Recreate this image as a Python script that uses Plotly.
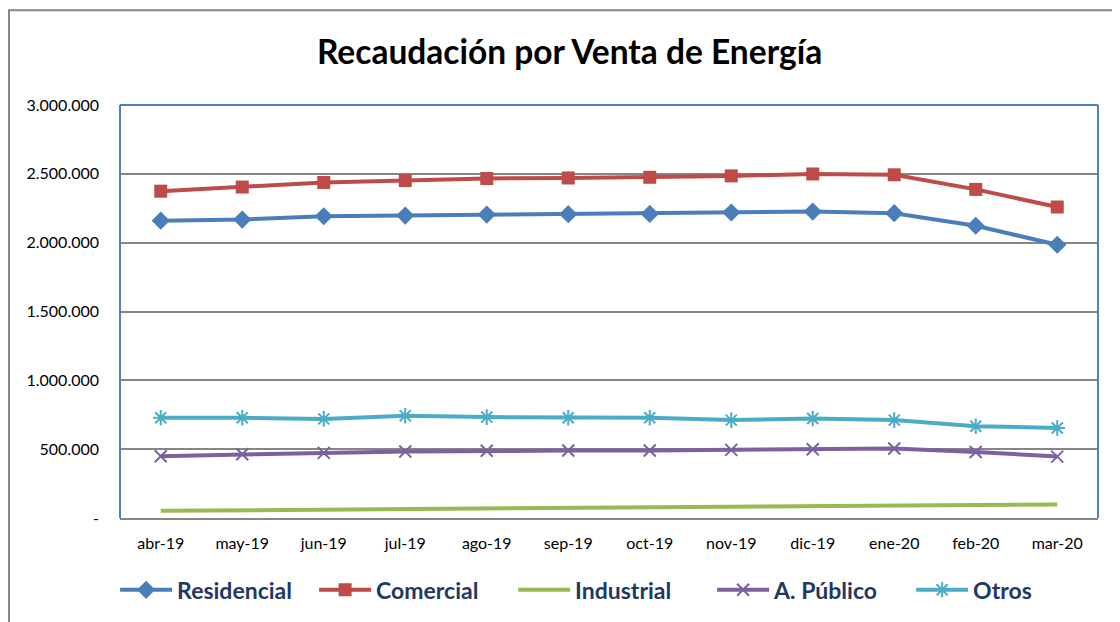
import plotly.graph_objects as go

months = ["abr-19", "may-19", "jun-19", "jul-19", "ago-19", "sep-19",
          "oct-19", "nov-19", "dic-19", "ene-20", "feb-20", "mar-20"]
residencial = [2160000, 2168000, 2192000, 2197000, 2204000, 2207000,
               2209000, 2219000, 2226000, 2214000, 2123000, 1985000]
comercial = [2374000, 2404000, 2437000, 2451000, 2466000, 2470000,
             2475000, 2485000, 2499000, 2493000, 2387000, 2259000]
industrial = [52000, 57000, 61000, 66000, 70000, 74000,
              78000, 83000, 87000, 91000, 95000, 98000]
publico = [449000, 463000, 473000, 483000, 488000, 490000,
           490000, 495000, 500000, 505000, 480000, 446000]
otros = [728000, 728000, 720000, 743000, 733000, 728000,
         728000, 711000, 723000, 711000, 667000, 654000]
y_ticks = [0, 500000, 1000000, 1500000, 2000000, 2500000, 3000000]

def fmt(v):
    return "-" if v == 0 else f"{v:,}".replace(",", ".")

FONT = "Lato"
series = [
    ("Residencial", residencial, "#4A7EBB", dict(symbol="diamond", size=14)),
    ("Comercial", comercial, "#BE4B48", dict(symbol="square", size=13)),
    ("Industrial", industrial, "#98B954", None),
    ("A. Público", publico, "#7D60A0", dict(symbol="x-thin-open", size=12, line=dict(width=2, color="#7D60A0"))),
    ("Otros", otros, "#4BACC6", dict(symbol="asterisk-open", size=13, line=dict(width=2, color="#4BACC6"))),
]

fig = go.Figure()
for name, vals, col, mk in series:
    if mk is None:
        fig.add_trace(go.Scatter(x=months, y=vals, name=name, mode="lines",
                                 line=dict(color=col, width=4)))
    else:
        m = dict(mk)
        m["color"] = col
        fig.add_trace(go.Scatter(x=months, y=vals, name=name, mode="lines+markers",
                                 line=dict(color=col, width=4), marker=m))

# page body adds an 8px offset, so the figure is 8px smaller
fig.update_layout(
    width=1112, height=614,
    margin=dict(l=112, r=22, t=97, b=104, autoexpand=False),
    paper_bgcolor="white", plot_bgcolor="white",
    font=dict(family=FONT, color="black", size=16),
    title=dict(text="<b>Recaudación por Venta de Energía</b>", x=0.505, xanchor="center",
               y=0.928, yanchor="middle", font=dict(size=33.5, family=FONT, color="black")),
    showlegend=True,
    legend=dict(orientation="h", x=-0.005, xanchor="left", y=-0.174, yanchor="middle",
                bgcolor="rgba(0,0,0,0)",
                font=dict(size=23, family=FONT, color="#1F3864", weight="bold"),
                entrywidth=132, entrywidthmode="pixels", itemwidth=52, tracegroupgap=0),
)
fig.update_xaxes(type="category", range=[-0.5, 11.5], showgrid=False, automargin=False,
                 showline=True, linecolor="#868686", linewidth=2,
                 ticks="", ticklabelstandoff=10, tickfont=dict(size=16, family=FONT))
fig.update_yaxes(range=[0, 3000000], tickvals=y_ticks, ticktext=[fmt(v) for v in y_ticks],
                 showgrid=True, gridcolor="#868686", gridwidth=2, zeroline=False, automargin=False,
                 showline=False, ticks="", ticklabelstandoff=20, tickfont=dict(size=16, family=FONT))

# plot-area frame (blue left/right/top) and outer chart border (left/top visible)
fig.add_shape(type="line", xref="paper", yref="paper", x0=0, x1=0, y0=0, y1=1,
              line=dict(color="#4F81BD", width=2))
fig.add_shape(type="line", xref="paper", yref="paper", x0=1, x1=1, y0=0, y1=1,
              line=dict(color="#4F81BD", width=2))
fig.add_shape(type="line", xref="paper", yref="paper", x0=0, x1=1, y0=1, y1=1,
              line=dict(color="#4F81BD", width=2))
fig.add_shape(type="rect", xref="paper", yref="paper", x0=-0.1135, x1=1.1, y0=-0.30, y1=1.2295,
              line=dict(color="#868686", width=2), layer="below")

fig.write_html("out.html")
